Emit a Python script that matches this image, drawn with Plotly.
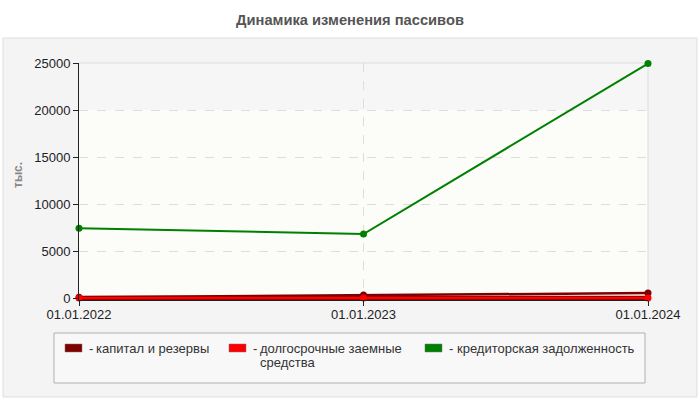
import plotly.graph_objects as go

# ---- data ----
dates = ["01.01.2022", "01.01.2023", "01.01.2024"]
series_names = ["капитал и резервы", "долгосрочные заемные средства", "кредиторская задолженность"]
legend_labels = ["капитал и резервы", "долгосрочные заемные<br>средства", "кредиторская задолженность"]
kapital = [80, 320, 520]
dolgosroch = [5, 5, 5]
kredit = [7420, 6810, 24940]
series_values = [kapital, dolgosroch, kredit]
colors = ["#800000", "#ff0000", "#008000"]
y_ticks = [0, 5000, 10000, 15000, 20000, 25000]
title = "Динамика изменения пассивов"
y_title = "тыс."

# ---- layout geometry (pixels) ----
W, H = 700, 400
L, R, T, B = 79, 648, 63, 300
ZERO_PX = 298
Y_MAX = 25000
Y_MIN = -(B - ZERO_PX) * Y_MAX / (ZERO_PX - T)


def px(x):
    return (x - L) / (R - L)


def py(y):
    return (B - y) / (B - T)


fig = go.Figure()
# green
fig.add_trace(go.Scatter(
    x=dates, y=kredit, name=series_names[2], mode="lines+markers",
    line=dict(color=colors[2], width=2), marker=dict(color=colors[2], size=7),
    cliponaxis=False, showlegend=False))
# dark red
fig.add_trace(go.Scatter(
    x=dates, y=kapital, name=series_names[0], mode="lines+markers",
    line=dict(color=colors[0], width=2.5), marker=dict(color=colors[0], size=7),
    cliponaxis=False, showlegend=False))
# red with dark outline
fig.add_trace(go.Scatter(
    x=dates, y=dolgosroch, mode="lines", hoverinfo="skip",
    line=dict(color="#7a0000", width=4.5), cliponaxis=False, showlegend=False))
fig.add_trace(go.Scatter(
    x=dates, y=dolgosroch, name=series_names[1], mode="lines+markers",
    line=dict(color=colors[1], width=2.5), marker=dict(color=colors[1], size=7),
    cliponaxis=False, showlegend=False))

shapes = []
# outer panel
shapes.append(dict(type="rect", xref="paper", yref="paper", layer="below",
                   x0=px(3), x1=px(697), y0=py(397), y1=py(38),
                   fillcolor="#f4f4f4", line=dict(color="#dedede", width=1)))
# plot area background
shapes.append(dict(type="rect", xref="paper", yref="paper", layer="below",
                   x0=0, x1=1, y0=0, y1=1,
                   fillcolor="#fcfcf8", line=dict(width=0)))
# top band in plot area
shapes.append(dict(type="rect", xref="paper", yref="y", layer="below",
                   x0=0, x1=1, y0=20000, y1=25000,
                   fillcolor="#f6f6f6", line=dict(width=0)))
# plot border (top & right)
shapes.append(dict(type="line", xref="paper", yref="paper", layer="below",
                   x0=0, x1=1, y0=1, y1=1, line=dict(color="#dddddd", width=1)))
shapes.append(dict(type="line", xref="paper", yref="paper", layer="below",
                   x0=1, x1=1, y0=0, y1=1, line=dict(color="#dddddd", width=1)))
# legend box
shapes.append(dict(type="rect", xref="paper", yref="paper", layer="below",
                   x0=px(54), x1=px(645), y0=py(383), y1=py(333),
                   fillcolor="#f8f8f8", line=dict(color="#b0b0b0", width=1)))

annotations = []
sw_x = [65, 229, 425]
dash_x = [87, 251, 447]
txt_x = [94, 258, 455]
LEG_FONT = 13
LINE_Y = [348, 362]
for i in range(3):
    shapes.append(dict(type="rect", xref="paper", yref="paper",
                       x0=px(sw_x[i]), x1=px(sw_x[i] + 17), y0=py(352), y1=py(344),
                       fillcolor=colors[i], line=dict(color="#777777", width=0.5)))
    annotations.append(dict(xref="paper", yref="paper", x=px(dash_x[i]), y=py(LINE_Y[0]),
                            xanchor="left", yanchor="middle", text="-", showarrow=False,
                            font=dict(size=LEG_FONT, color="#333333")))
    for j, part in enumerate(legend_labels[i].split("<br>")):
        annotations.append(dict(xref="paper", yref="paper", x=px(txt_x[i]), y=py(LINE_Y[j]),
                                xanchor="left", yanchor="middle", align="left",
                                text=part, showarrow=False,
                                font=dict(size=LEG_FONT, color="#333333")))
# y-axis title
annotations.append(dict(xref="paper", yref="paper", x=px(18), y=py(175),
                        xanchor="center", yanchor="middle", textangle=-90,
                        text="<b>" + y_title + "</b>", showarrow=False,
                        font=dict(size=12, color="#888888")))

fig.update_layout(
    width=W, height=H,
    margin=dict(l=L, r=W - R, t=T, b=H - B, pad=0),
    paper_bgcolor="white",
    plot_bgcolor="#fcfcf8",
    font=dict(family="Liberation Sans, Arial, sans-serif", size=13, color="#222222"),
    title=dict(text="<b>" + title + "</b>", x=0.5, xref="container", xanchor="center",
               y=1 - 20 / H, yanchor="middle",
               font=dict(size=14.7, color="#555555")),
    shapes=shapes,
    annotations=annotations,
    showlegend=False,
    xaxis=dict(type="category", range=[0, 2], showline=True, linecolor="#222222",
               ticks="outside", ticklen=5, tickcolor="#222222",
               showgrid=True, gridcolor="#dddddd", griddash="dash",
               zeroline=False, tickfont=dict(size=13, color="#222222"),
               ticklabelstandoff=-3,
               automargin=False, fixedrange=True),
    yaxis=dict(range=[Y_MIN, Y_MAX], tickvals=y_ticks, tickformat="d",
               showline=True, linecolor="#222222",
               ticks="outside", ticklen=5, tickcolor="#222222",
               showgrid=True, gridcolor="#dddddd", griddash="dash",
               zeroline=False, tickfont=dict(size=13, color="#222222"),
               automargin=False, fixedrange=True),
)

fig.write_html("out.html", config={"displayModeBar": False},
               post_script="document.body.style.margin='0px';document.body.style.overflow='hidden';")
